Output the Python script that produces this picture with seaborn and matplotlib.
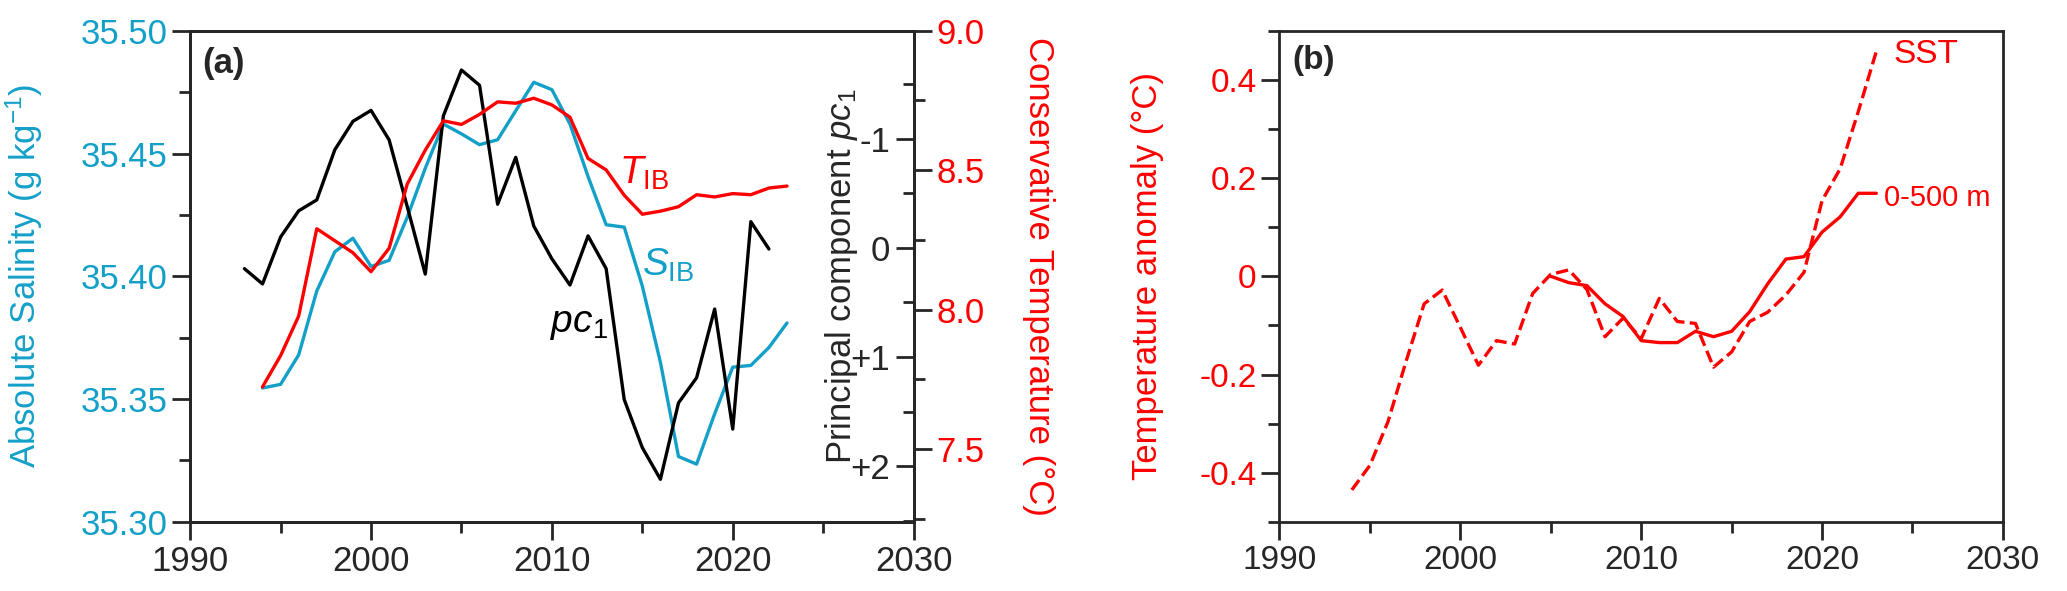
import matplotlib
matplotlib.use("Agg")
import matplotlib.pyplot as plt
from matplotlib.ticker import MultipleLocator
import seaborn as sns
import numpy as np

sns.set_style("ticks")
plt.rcParams['font.family'] = ['Liberation Sans', 'DejaVu Sans']
plt.rcParams['mathtext.fontset'] = 'custom'
plt.rcParams['mathtext.rm'] = 'Liberation Sans'
plt.rcParams['mathtext.it'] = 'Liberation Sans:italic'

CYAN = '#13a0c8'
RED = '#ff0000'

# panel (a) data
years_s = list(range(1994, 2024))
salinity = [35.3545, 35.356, 35.368, 35.394, 35.410, 35.4155, 35.404, 35.4065, 35.424, 35.444,
            35.462, 35.458, 35.4536, 35.4556, 35.4674, 35.479, 35.476, 35.462, 35.4406, 35.421,
            35.420, 35.396, 35.365, 35.3266, 35.3235, 35.344, 35.363, 35.3637, 35.371, 35.381]
temp_ib = [7.723, 7.835, 7.977, 8.29, 8.247, 8.204, 8.136, 8.22, 8.45, 8.572,
           8.677, 8.664, 8.70, 8.745, 8.74, 8.758, 8.734, 8.69, 8.542, 8.501,
           8.41, 8.342, 8.353, 8.369, 8.412, 8.404, 8.416, 8.412, 8.436, 8.443]
years_pc = list(range(1993, 2023))
pc1 = [0.19, 0.33, -0.10, -0.34, -0.44, -0.90, -1.16, -1.26, -0.99, -0.38,
       0.24, -1.21, -1.63, -1.49, -0.40, -0.83, -0.20, 0.10, 0.34, -0.11,
       0.19, 1.39, 1.83, 2.12, 1.42, 1.19, 0.56, 1.66, -0.24, 0.01]

# panel (b) data
years_sst = list(range(1994, 2024))
sst = [-0.435, -0.385, -0.296, -0.173, -0.056, -0.028, -0.104, -0.181, -0.131, -0.138,
       -0.035, 0.004, 0.013, -0.027, -0.123, -0.085, -0.127, -0.045, -0.092, -0.096,
       -0.185, -0.154, -0.092, -0.073, -0.038, 0.008, 0.154, 0.219, 0.335, 0.458]
years_500 = list(range(2005, 2024))
t500 = [0.0, -0.013, -0.019, -0.056, -0.082, -0.131, -0.135, -0.135, -0.112, -0.123,
        -0.112, -0.072, -0.015, 0.035, 0.04, 0.09, 0.121, 0.169, 0.169]

fig = plt.figure(figsize=(20.67, 5.91), dpi=100)
ax1 = fig.add_axes([0.092, 0.117, 0.350, 0.831])
axb = fig.add_axes([0.619, 0.117, 0.350, 0.831])

fs = 25
lw = 2.4
sw = 2.0
maj = dict(length=13, width=sw)
mnr = dict(length=8, width=sw)

# --- panel a ---
ax2 = ax1.twinx()
ax3 = ax1.twinx()
sns.lineplot(x=years_s, y=salinity, ax=ax1, color=CYAN, lw=lw)
sns.lineplot(x=years_pc, y=pc1, ax=ax2, color='black', lw=lw)
sns.lineplot(x=years_s, y=temp_ib, ax=ax3, color=RED, lw=lw)

ax1.set_xlim(1990, 2030)
ax1.set_ylim(35.30, 35.50)
ax1.xaxis.set_major_locator(MultipleLocator(10))
ax1.xaxis.set_minor_locator(MultipleLocator(5))
ax1.yaxis.set_major_locator(MultipleLocator(0.05))
ax1.yaxis.set_minor_locator(MultipleLocator(0.025))
ax1.yaxis.set_major_formatter(plt.FormatStrFormatter('%.2f'))
ax1.tick_params(axis='both', which='major', labelsize=fs, direction='out', **maj)
ax1.tick_params(axis='both', which='minor', direction='out', **mnr)
ax1.tick_params(axis='y', which='both', labelcolor=CYAN)
ax1.set_ylabel('Absolute Salinity (g kg$^{-1}$)', color=CYAN, fontsize=fs)
ax1.yaxis.set_label_coords(-0.2, 0.5)
ax1.set_xlabel('')

ax2.set_ylim(2.51, -1.99)
ax2.set_yticks([-1, 0, 1, 2])
ax2.set_yticklabels(['-1', '0', '+1', '+2'])
ax2.yaxis.set_minor_locator(MultipleLocator(0.5))
ax2.tick_params(axis='y', which='major', direction='in', labelsize=fs, pad=-17, **maj)
ax2.tick_params(axis='y', which='minor', direction='in', **mnr)
for t in ax2.get_yticklabels():
    t.set_horizontalalignment('right')
ax2.set_ylabel('Principal component $pc_1$', fontsize=fs)
ax2.yaxis.set_label_coords(0.875, 0.5)

ax3.set_ylim(7.239, 9.0)
ax3.yaxis.set_major_locator(MultipleLocator(0.5))
ax3.yaxis.set_minor_locator(MultipleLocator(0.25))
ax3.yaxis.set_major_formatter(plt.FormatStrFormatter('%.1f'))
ax3.tick_params(axis='y', which='major', direction='out', labelsize=fs, labelcolor=RED, **maj)
ax3.tick_params(axis='y', which='minor', direction='out', **mnr)
ax3.set_ylabel('Conservative Temperature (°C)', color=RED, fontsize=fs,
               rotation=270, va='bottom')
ax3.yaxis.set_label_coords(1.15, 0.5)

for a in (ax1, ax2, ax3):
    for s in a.spines.values():
        s.set_linewidth(sw)

ax1.text(0.017, 0.933, '(a)', transform=ax1.transAxes, fontsize=fs, fontweight='bold', va='center')
ax1.text(0.593, 0.71, r'$T_{\rm IB}$', transform=ax1.transAxes, fontsize=fs + 3, color=RED, va='center')
ax1.text(0.625, 0.522, r'$S_{\rm IB}$', transform=ax1.transAxes, fontsize=fs + 3, color=CYAN, va='center')
ax1.text(0.498, 0.403, r'$pc_1$', transform=ax1.transAxes, fontsize=fs + 3, color='black', va='center')

# --- panel b ---
sns.lineplot(x=years_sst, y=sst, ax=axb, color=RED, lw=lw, linestyle='--')
sns.lineplot(x=years_500, y=t500, ax=axb, color=RED, lw=lw)
axb.set_xlim(1990, 2030)
axb.set_ylim(-0.5, 0.5)
axb.xaxis.set_major_locator(MultipleLocator(10))
axb.xaxis.set_minor_locator(MultipleLocator(5))
axb.set_yticks([-0.4, -0.2, 0, 0.2, 0.4])
axb.set_yticklabels(['-0.4', '-0.2', '0', '0.2', '0.4'])
axb.yaxis.set_minor_locator(MultipleLocator(0.1))
axb.tick_params(axis='both', which='major', labelsize=fs - 1, direction='out', **maj)
axb.tick_params(axis='both', which='minor', direction='out', **mnr)
axb.tick_params(axis='y', which='both', labelcolor=RED)
axb.set_ylabel('Temperature anomaly (°C)', color=RED, fontsize=fs)
axb.yaxis.set_label_coords(-0.16, 0.5)
for s in axb.spines.values():
    s.set_linewidth(sw)
axb.text(0.018, 0.94, '(b)', transform=axb.transAxes, fontsize=fs - 1, fontweight='bold', va='center')
axb.text(0.848, 0.952, 'SST', transform=axb.transAxes, fontsize=fs - 1, color=RED, va='center')
axb.text(0.836, 0.66, '0-500 m', transform=axb.transAxes, fontsize=fs - 4, color=RED, va='center')

fig.savefig('out.png', dpi=100)
